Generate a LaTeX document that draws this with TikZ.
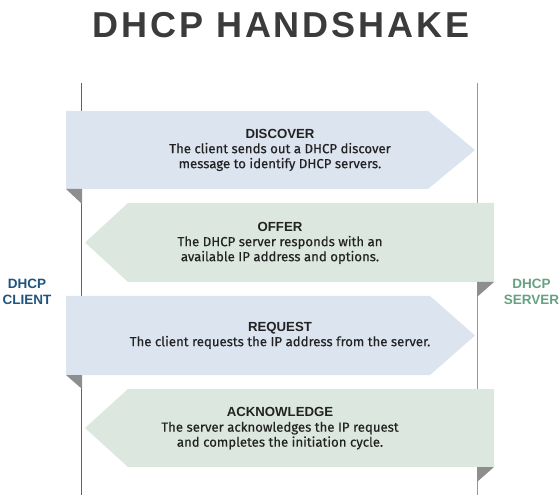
\documentclass[tikz,border=0pt]{standalone}
\usepackage{fontspec}
\setmainfont{Liberation Sans}
\newfontfamily\msgfont[FakeBold=0.35]{Fira Sans}
\usepackage{tikz}
\usetikzlibrary{positioning}
\definecolor{clientBlue}{HTML}{2F70A0}
\definecolor{clientText}{HTML}{1E5480}
\definecolor{serverGreen}{HTML}{6FAE8C}
\definecolor{serverText}{HTML}{66A282}
\definecolor{msgBlue}{HTML}{DCE4F0}
\definecolor{msgGreen}{HTML}{DCE8DF}
\definecolor{foldGray}{HTML}{8E8E8E}
\definecolor{titleGray}{HTML}{3B3B3B}
\definecolor{bodyGray}{HTML}{222222}

\begin{document}
\begin{tikzpicture}[x=1pt,y=-1pt,
  toclient/.style={fill=msgGreen},
  toserver/.style={fill=msgBlue},
  fold/.style={fill=foldGray},
  msgtext/.style={align=center,text=bodyGray,
    font=\msgfont\fontsize{13.2}{15}\selectfont},
  sidelabel/.style={align=center,font=\fontsize{13.5}{16.5}\selectfont\bfseries}]
  \useasboundingbox (0,0) rectangle (560,497);

  %% title
  \node[text=titleGray,font=\fontsize{36}{40}\selectfont\bfseries\addfontfeatures{LetterSpace=8}]
    (title) at (281,25.5) {DHCP HANDSHAKE};

  %% life lines
  \coordinate (clientTop) at (81.5,83);
  \coordinate (clientBot) at (81.5,495);
  \coordinate (serverTop) at (477.5,83);
  \coordinate (serverBot) at (477.5,495);
  \draw[clientBlue,line width=1.8] (clientTop) -- (clientBot);
  \draw[serverGreen,line width=1.8] (serverTop) -- (serverBot);

  \node[sidelabel,text=clientText] (client) at (27,292) {DHCP\\CLIENT};
  \node[sidelabel,text=serverText] (server) at (531.5,292) {DHCP\\SERVER};

  %% messages
  % discover
  \fill[toserver] (66,111) -- (428,111) -- (475,150) -- (428,189) -- (66,189) -- cycle;
  \fill[fold] (66,189) -- (82,189) -- (82,204) -- cycle;
  \node[msgtext] (discover) at (280,150)
    {{\rmfamily\bfseries DISCOVER}\\The client sends out a DHCP discover\\message to identify DHCP servers.};

  % offer
  \fill[toclient] (494,203) -- (128,203) -- (85,242.5) -- (128,282) -- (494,282) -- cycle;
  \fill[fold] (494,282) -- (477,282) -- (477,297) -- cycle;
  \node[msgtext] (offer) at (280,243)
    {{\rmfamily\bfseries OFFER}\\The DHCP server responds with an\\available IP address and options.};

  % request
  \fill[toserver] (66,296) -- (430,296) -- (475,335.5) -- (430,375) -- (66,375) -- cycle;
  \fill[fold] (66,375) -- (82,375) -- (82,389) -- cycle;
  \node[msgtext] (request) at (280,335.5)
    {{\rmfamily\bfseries REQUEST}\\The client requests the IP address from the server.};

  % acknowledge
  \fill[toclient] (494,389) -- (128,389) -- (85,428) -- (128,467) -- (494,467) -- cycle;
  \fill[fold] (494,467) -- (477,467) -- (477,482) -- cycle;
  \node[msgtext] (acknowledge) at (280,428.5)
    {{\rmfamily\bfseries ACKNOWLEDGE}\\The server acknowledges the IP request\\and completes the initiation cycle.};
\end{tikzpicture}
\end{document}
